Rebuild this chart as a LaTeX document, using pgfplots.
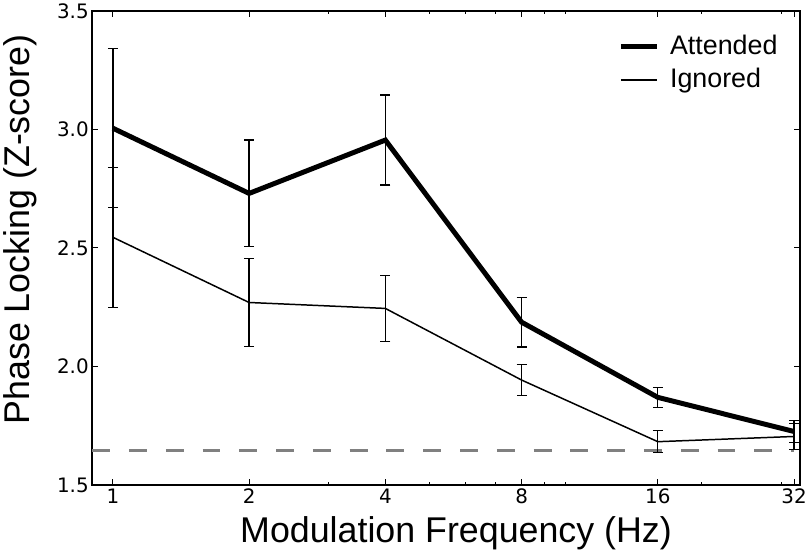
\documentclass[border=0pt]{standalone}
\usepackage{fontspec}
\setmainfont{Liberation Sans}
\newfontfamily\tickfont{DejaVu Sans}
\usepackage{pgfplots}
\pgfplotsset{compat=1.18}
\begin{document}
\begin{tikzpicture}
\begin{axis}[
 scale only axis, width=712pt, height=477pt,
 xmode=log,
 xmin=0.9, xmax=33, ymin=1.5, ymax=3.5,
 xtick={1,2,4,8,16,32}, xticklabels={1,2,4,8,16,32},
 minor xtick={3,5,6,7,9,10,20,30},
 ytick={1.5,2.0,2.5,3.0,3.5},
 yticklabels={1.5,2.0,2.5,3.0,3.5},
 tick align=inside,
 major tick length=6pt, minor tick length=3pt,
 tick style={black, line width=1pt},
 axis line style={line width=1.5pt},
 /pgf/number format/assume math mode=true,
 tick label style={font=\tickfont\fontsize{20}{24}\selectfont},
 label style={font=\fontsize{36}{42}\selectfont},
 xlabel={Modulation Frequency (Hz)},
 ylabel={Phase Locking (Z-score)},
 xlabel style={at={(axis description cs:0.514,-0.1216)}, anchor=base},
 ylabel style={at={(axis description cs:-0.0889,0.539)}, anchor=base},
 legend style={draw=none, fill=none, inner sep=0pt, at={(axis description cs:0.743,0.9595)}, anchor=north west,
   font=\fontsize{27}{32}\selectfont, nodes={inner sep=0pt, text height=24pt, text depth=9.4pt}},
 legend image code/.code={\draw[#1] (0pt,0pt) -- (36pt,0pt);},
 legend cell align=left,
]
\addplot[gray, line width=2.5pt, dash pattern=on 18pt off 19pt, forget plot] coordinates {(0.9,1.645) (32,1.645)};
\addplot[black, line width=5pt, mark=none,
  error bars/.cd, y dir=both, y explicit,
  error bar style={line width=1.3pt, solid},
  error mark options={rotate=90, line width=1.3pt, mark size=5pt}]
  table[x=x, y=y, y error=e] {
x y e
1 3.005 0.335
2 2.73 0.225
4 2.955 0.19
8 2.187 0.105
16 1.87 0.042
32 1.726 0.045
};
\addlegendentry{\hspace*{11pt}Attended}
\addplot[black, line width=1.5pt, mark=none,
  error bars/.cd, y dir=both, y explicit,
  error bar style={line width=1.3pt, solid},
  error mark options={rotate=90, line width=1.3pt, mark size=5pt}]
  table[x=x, y=y, y error=e] {
x y e
1 2.545 0.295
2 2.27 0.187
4 2.245 0.14
8 1.943 0.065
16 1.683 0.047
32 1.705 0.056
};
\addlegendentry{\hspace*{11pt}Ignored}
\end{axis}
\end{tikzpicture}
\end{document}
